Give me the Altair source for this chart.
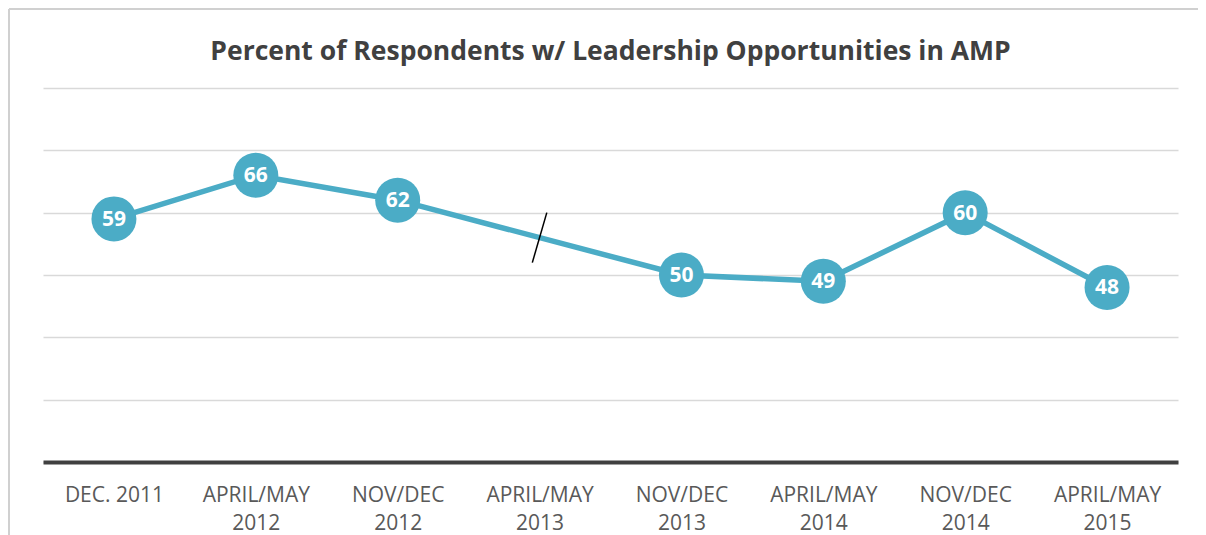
import altair as alt
import pandas as pd

periods = ["DEC. 2011", "APRIL/MAY 2012", "NOV/DEC 2012", "APRIL/MAY 2013",
           "NOV/DEC 2013", "APRIL/MAY 2014", "NOV/DEC 2014", "APRIL/MAY 2015"]
percent = [59, 66, 62, None, 50, 49, 60, 48]
gap_period = ["APRIL/MAY 2013"]
gap_value = [56]
y_grid = [20, 30, 40, 50, 60, 70, 80]

df = pd.DataFrame({"period": periods, "percent": percent}).dropna()
gap = pd.DataFrame({"period": gap_period, "percent": gap_value})

FONT = "Open Sans"
TEAL = "#4BACC6"

x = alt.X(
    "period:N", sort=periods,
    scale=alt.Scale(type="point", domain=periods, padding=0.5),
    axis=alt.Axis(
        title=None, labelAngle=0, ticks=False, grid=False,
        domainColor="#404040", domainWidth=4,
        labelFont=FONT, labelFontSize=21, labelColor="#595959",
        labelPadding=22, labelLineHeight=28,
        labelExpr="indexof(datum.label, 'DEC. ') == 0 ? datum.label : split(datum.label, ' ')",
    ),
)
y = alt.Y(
    "percent:Q",
    scale=alt.Scale(domain=[20, 80], nice=False, zero=False),
    axis=alt.Axis(title=None, labels=False, ticks=False, domain=False,
                  values=y_grid, gridColor="#D9D9D9", gridWidth=1.5),
)

line = alt.Chart(df).mark_line(color=TEAL, strokeWidth=5.5).encode(x=x, y=y)
slash = alt.Chart(gap).mark_point(
    shape="M0.29,-1L-0.29,1", size=2500, filled=False, color="black",
    strokeWidth=1.5, opacity=1,
).encode(x=x, y=y)
dots = alt.Chart(df).mark_circle(color=TEAL, size=2025, opacity=1).encode(x=x, y=y)
labels = alt.Chart(df).mark_text(
    color="white", font=FONT, fontWeight="bold", fontSize=21, baseline="middle", dy=1
).encode(x=x, y=y, text="percent:Q")

border_left = alt.Chart(gap).mark_rule(color="#D0D0D0", strokeWidth=2).encode(
    x=alt.value(-34), y=alt.value(-79), y2=alt.value(470))
border_top = alt.Chart(gap).mark_rule(color="#D0D0D0", strokeWidth=2).encode(
    x=alt.value(-34), x2=alt.value(1155), y=alt.value(-79))

chart = alt.layer(border_left, border_top, line, slash, dots, labels).properties(
    width=1135, height=374,
    title=alt.TitleParams(
        "Percent of Respondents w/ Leadership Opportunities in AMP",
        font=FONT, fontSize=26.5, fontWeight="bold", color="#404040",
        anchor="middle", offset=-57,
    ),
    autosize=alt.AutoSizeParams(type="none"),
    padding={"left": 35, "top": 80, "right": 20, "bottom": 73},
).configure(background="white").configure_view(stroke=None)

chart.save("out.html", embed_options={"renderer": "svg", "actions": False})
